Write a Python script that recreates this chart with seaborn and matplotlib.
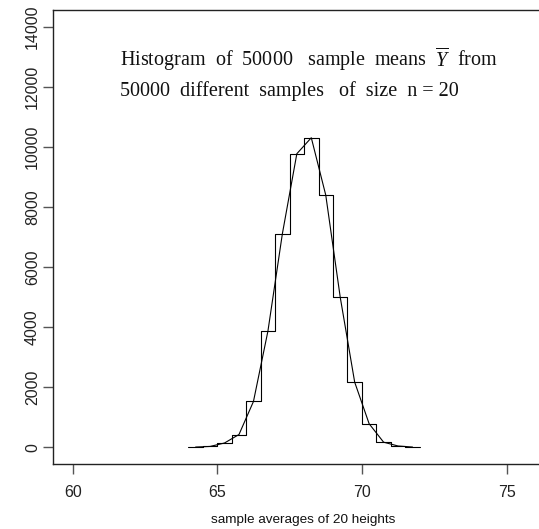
import numpy as np
import pandas as pd
import matplotlib
matplotlib.use("Agg")
import matplotlib.pyplot as plt
import seaborn as sns

# ---- data ----
bin_edges = [64.0, 64.5, 65.0, 65.5, 66.0, 66.5, 67.0, 67.5, 68.0,
             68.5, 69.0, 69.5, 70.0, 70.5, 71.0, 71.5, 72.0]
bin_counts = [5, 25, 140, 423, 1523, 3867, 7113, 9780, 10313,
              8400, 5000, 2167, 780, 167, 40, 5]
x_ticks = [60, 65, 70, 75]
y_ticks = [0, 2000, 4000, 6000, 8000, 10000, 12000, 14000]
title_line1 = r"Histogram  of  50000   sample  means  $\overline{Y}$  from"
title_line2 = "50000  different  samples   of  size  n = 20"
x_label = "sample averages of 20 heights"

mids = [(a + b) / 2 for a, b in zip(bin_edges[:-1], bin_edges[1:])]
df = pd.DataFrame({"mid": mids, "count": bin_counts})

sns.set_style("ticks")
plt.rcParams["font.family"] = ["Liberation Sans", "DejaVu Sans"]
plt.rcParams["mathtext.fontset"] = "custom"
plt.rcParams["mathtext.rm"] = "Liberation Serif"
plt.rcParams["mathtext.it"] = "Liberation Serif:italic"

W, H = 539, 529
fig = plt.figure(figsize=(W / 100, H / 100), dpi=100)
fig.patch.set_facecolor("white")

# axes placement (pixels)
L, R, T, B = 53.3, 545.0, 10.3, 464.0
ax = fig.add_axes([L / W, 1 - B / H, (R - L) / W, (B - T) / H])

sns.histplot(data=df, x="mid", weights="count", bins=bin_edges,
             element="step", fill=False, color="black", linewidth=0.8, ax=ax)
sns.lineplot(data=df, x="mid", y="count", color="black", linewidth=0.8,
             ax=ax, sort=True, estimator=None)

ax.set_xlim(59.33, 76.33)
ax.set_ylim(-560, 14560)
ax.set_xticks(x_ticks)
ax.set_yticks(y_ticks)
ax.set_xticklabels([str(v) for v in x_ticks])
ax.set_yticklabels([str(v) for v in y_ticks], rotation=90, va="center")
ax.tick_params(axis="both", direction="out", length=7, width=1,
               color="#555555", labelsize=11.5, labelcolor="#222222")
ax.tick_params(axis="x", pad=8)
ax.tick_params(axis="y", pad=2.5)
for s in ax.spines.values():
    s.set_visible(True)
    s.set_color("#222222")
    s.set_linewidth(1.0)
ax.set_ylabel("")
ax.set_xlabel(x_label, fontsize=9.7, color="#111111")
ax.xaxis.label.set_va("center")
ax.xaxis.set_label_coords((303 - L) / (R - L), (B - 520) / (B - T))
ax.grid(False)

serif = ["Liberation Serif", "DejaVu Serif"]
fig.text(120 / W, 1 - 65.7 / H, title_line1, family=serif, fontsize=14.5,
         ha="left", va="baseline", color="#111111")
fig.text(120 / W, 1 - 95.7 / H, title_line2, family=serif, fontsize=14.5,
         ha="left", va="baseline", color="#111111")

fig.savefig("out.png", dpi=100, facecolor="white")
